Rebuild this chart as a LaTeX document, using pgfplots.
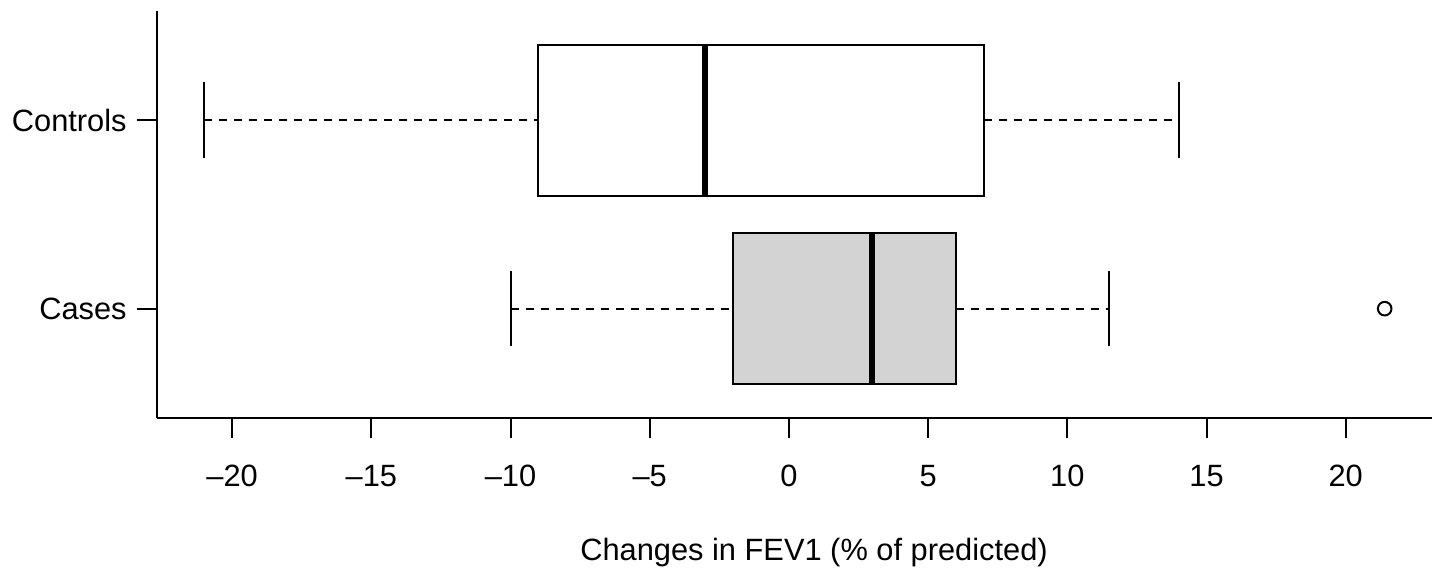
\documentclass[border=0pt]{standalone}
\usepackage{fontspec}
\setmainfont{Liberation Sans}
\usepackage{pgfplots}
\pgfplotsset{compat=1.18}
\usepgfplotslibrary{statistics}
\definecolor{boxgray}{RGB}{211,211,211}
\newcommand{\lblfont}{\fontsize{15.4}{18}\selectfont}
\begin{document}
\begin{tikzpicture}
\begin{axis}[
  at={(0,0)}, anchor=south west,
  scale only axis, width=637.5pt, height=203.6pt,
  xmin=-22.7, xmax=23.1, ymin=0.42, ymax=2.58,
  axis x line*=bottom, axis y line*=left,
  axis line style={-, line width=1pt},
  tick align=outside, major tick length=10pt,
  major tick style={line width=1pt, black},
  xtick={-20,-15,...,20},
  xticklabels={\textendash20,\textendash15,\textendash10,\textendash5,0,5,10,15,20},
  ytick={1,2}, yticklabels={Cases,Controls},
  xticklabel style={anchor=north, inner sep=0pt, font=\lblfont},
  xticklabel shift=13.5pt,
  yticklabel style={anchor=east, inner sep=0pt, font=\lblfont},
  yticklabel shift=5pt,
  xlabel={Changes in FEV1 (\% of predicted)},
  x label style={at={(axis description cs:0.5153,0)}, anchor=base, yshift=-71pt, inner sep=0pt, font=\lblfont},
  boxplot/draw direction=x,
  boxplot/draw/box/.code={%
    \draw[line width=1pt, /pgfplots/boxplot/every box/.try]
      (boxplot box cs:\pgfplotsboxplotvalue{lower quartile},0) rectangle
      (boxplot box cs:\pgfplotsboxplotvalue{upper quartile},1);
  },
  boxplot/draw/median/.code={%
    \draw[line width=3pt]
      (boxplot box cs:\pgfplotsboxplotvalue{median},0) --
      (boxplot box cs:\pgfplotsboxplotvalue{median},1);
  },
  boxplot/draw/lower whisker/.code={%
    \draw[line width=1pt, dash pattern=on 4pt off 3.5pt]
      (boxplot cs:\pgfplotsboxplotvalue{lower whisker}) --
      (boxplot cs:\pgfplotsboxplotvalue{lower quartile});
    \draw[line width=1pt]
      (boxplot whisker cs:\pgfplotsboxplotvalue{lower whisker},0) --
      (boxplot whisker cs:\pgfplotsboxplotvalue{lower whisker},1);
  },
  boxplot/draw/upper whisker/.code={%
    \draw[line width=1pt, dash pattern=on 4pt off 3.5pt]
      (boxplot cs:\pgfplotsboxplotvalue{upper quartile}) --
      (boxplot cs:\pgfplotsboxplotvalue{upper whisker});
    \draw[line width=1pt]
      (boxplot whisker cs:\pgfplotsboxplotvalue{upper whisker},0) --
      (boxplot whisker cs:\pgfplotsboxplotvalue{upper whisker},1);
  },
]
% Cases
\addplot[black, line width=1pt, mark=o, mark size=3.4pt,
  boxplot prepared={draw position=1,
    lower whisker=-10, lower quartile=-2, median=3,
    upper quartile=6, upper whisker=11.5,
    box extend=0.8, whisker extend=0.4,
    every box/.style={fill=boxgray}}]
  coordinates {(0,21.4)};
% Controls
\addplot[black, line width=1pt, mark=o, mark size=3.4pt,
  boxplot prepared={draw position=2,
    lower whisker=-21, lower quartile=-9, median=-3,
    upper quartile=7, upper whisker=14,
    box extend=0.8, whisker extend=0.4,
    every box/.style={fill=white}}]
  coordinates {};
\end{axis}
\pgfresetboundingbox
\path (-78.5pt,-75.5pt) rectangle (640.5pt,209pt);
\end{tikzpicture}
\end{document}
